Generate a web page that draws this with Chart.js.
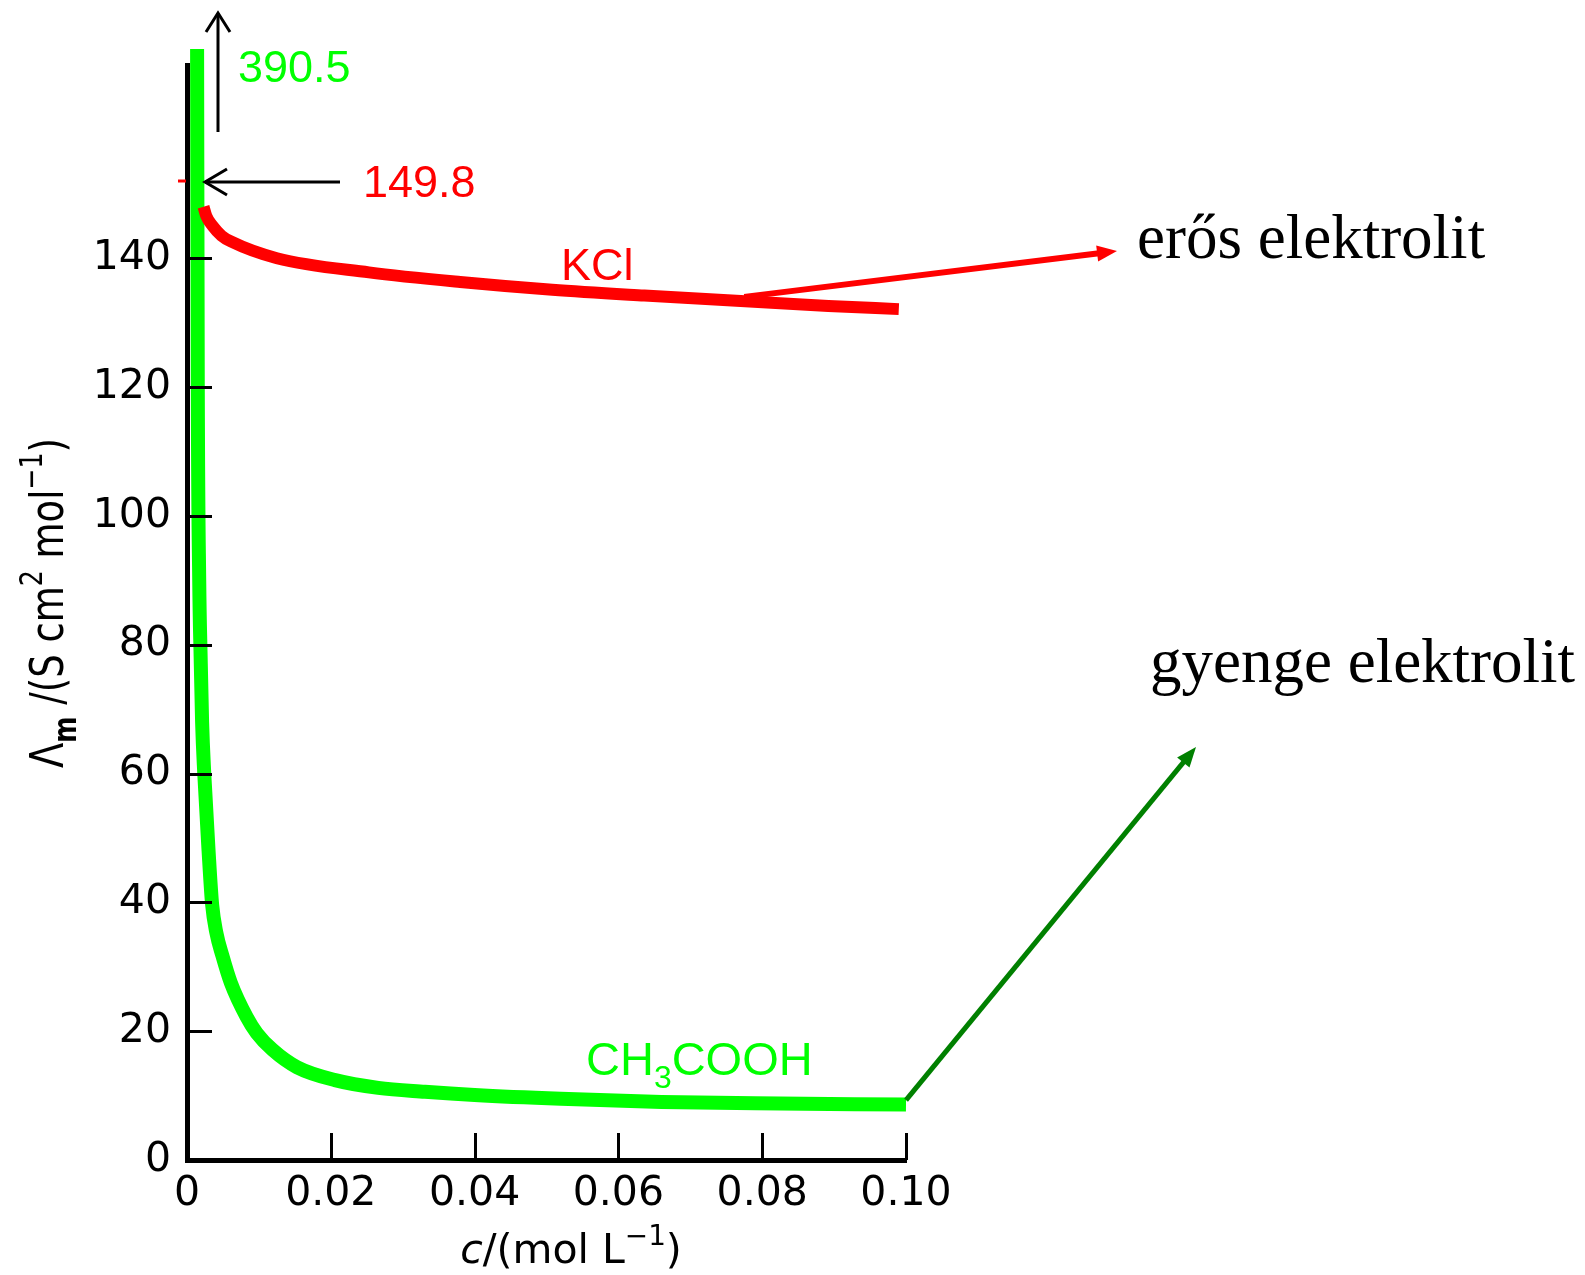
<!DOCTYPE html>
<html>
<head>
<meta charset="utf-8">
<script src="https://cdn.jsdelivr.net/npm/chart.js@4"></script>
<style>
  html, body { margin: 0; padding: 0; background: #fff; }
  #wrap { width: 1585px; height: 1275px; position: relative; }
</style>
</head>
<body>
<div id="wrap"><canvas id="myChart"></canvas></div>
<script>
// molar conductivity vs concentration
const concKCl   = [0.0023, 0.0027, 0.0035, 0.0048, 0.0061, 0.0125, 0.0253, 0.0380, 0.0508, 0.0636, 0.0764, 0.0892, 0.0990];
const lambdaKCl = [148.0, 146.5, 145.1, 143.5, 142.6, 140.0, 137.8, 136.3, 135.1, 134.2, 133.4, 132.6, 132.1];

const concAcetic   = [0.0014, 0.0015, 0.0017, 0.0019, 0.0021, 0.0024, 0.0030, 0.0035, 0.0041, 0.0049, 0.0061, 0.0083, 0.0097, 0.0119, 0.0153, 0.0206, 0.0266, 0.0331, 0.0400, 0.0520, 0.0660, 0.0790, 0.1000];
const lambdaAcetic = [175, 120, 90, 78, 68, 60, 48, 39.6, 35.2, 31.8, 27.5, 22.2, 19.7, 17.1, 14.4, 12.4, 11.2, 10.6, 10.1, 9.5, 9.0, 8.8, 8.6];

const xTickValues = [0, 0.02, 0.04, 0.06, 0.08, 0.10];
const xTickLabels = ['0', '0.02', '0.04', '0.06', '0.08', '0.10'];
const yTickValues = [0, 20, 40, 60, 80, 100, 120, 140];

const limitKCl = '149.8';
const limitAcetic = '390.5';

const toPoints = (xs, ys) => xs.map((x, i) => ({ x: x, y: ys[i] }));

function line(ctx, x1, y1, x2, y2) {
    ctx.beginPath();
    ctx.moveTo(x1, y1);
    ctx.lineTo(x2, y2);
    ctx.stroke();
}

// filled arrow head at the end of a line
function arrow(ctx, x1, y1, x2, y2, color, width, headLen, headHalf) {
    const a = Math.atan2(y2 - y1, x2 - x1);
    ctx.strokeStyle = color;
    ctx.fillStyle = color;
    ctx.lineWidth = width;
    line(ctx, x1, y1, x2 - Math.cos(a) * headLen * 0.8, y2 - Math.sin(a) * headLen * 0.8);
    ctx.beginPath();
    ctx.moveTo(x2, y2);
    ctx.lineTo(x2 - Math.cos(a) * headLen - Math.sin(a) * headHalf, y2 - Math.sin(a) * headLen + Math.cos(a) * headHalf);
    ctx.lineTo(x2 - Math.cos(a) * headLen + Math.sin(a) * headHalf, y2 - Math.sin(a) * headLen - Math.cos(a) * headHalf);
    ctx.closePath();
    ctx.fill();
}

// open (line) arrow head
function openArrow(ctx, x1, y1, x2, y2, headLen, headHalf) {
    const a = Math.atan2(y2 - y1, x2 - x1);
    line(ctx, x1, y1, x2, y2);
    ctx.beginPath();
    ctx.moveTo(x2 - Math.cos(a) * headLen - Math.sin(a) * headHalf, y2 - Math.sin(a) * headLen + Math.cos(a) * headHalf);
    ctx.lineTo(x2, y2);
    ctx.lineTo(x2 - Math.cos(a) * headLen + Math.sin(a) * headHalf, y2 - Math.sin(a) * headLen - Math.cos(a) * headHalf);
    ctx.stroke();
}

// text runs with sub / superscripts
function runFont(r, size, family) {
    const s = r.mode ? size * 0.68 : size;
    return (r.italic ? 'italic ' : '') + (r.bold ? 'bold ' : '') + s + 'px ' + family;
}
function runsWidth(ctx, runs, size, family) {
    let w = 0;
    runs.forEach(r => { ctx.font = runFont(r, size, family); w += ctx.measureText(r.t).width; });
    return w;
}
function drawRuns(ctx, runs, x, y, size, family) {
    let cx = x;
    ctx.textAlign = 'left';
    ctx.textBaseline = 'alphabetic';
    runs.forEach(r => {
        ctx.font = runFont(r, size, family);
        const dy = r.mode === 'sub' ? size * 0.28 : r.mode === 'sup' ? -size * 0.45 : 0;
        ctx.fillText(r.t, cx, y + dy);
        cx += ctx.measureText(r.t).width;
    });
}

const yTitle = [
    { t: 'Λ' }, { t: 'm', mode: 'sub', bold: true }, { t: ' /(S cm' }, { t: '2', mode: 'sup' },
    { t: ' mol' }, { t: '−1', mode: 'sup' }, { t: ')' }
];
const xTitle = [
    { t: 'c', italic: true }, { t: '/(mol L' }, { t: '−1', mode: 'sup' }, { t: ')' }
];
const aceticLabel = [{ t: 'CH' }, { t: '3', mode: 'sub' }, { t: 'COOH' }];

const decorations = {
    id: 'decorations',
    afterDatasetsDraw(chart) {
        const { ctx, chartArea: a, scales: { x, y } } = chart;
        ctx.save();

        // inward tick marks
        ctx.strokeStyle = '#000';
        ctx.lineWidth = 3;
        yTickValues.slice(1).forEach(v => {
            const py = Math.round(y.getPixelForValue(v)) + 0.5;
            line(ctx, a.left, py, a.left + 25, py);
        });
        xTickValues.slice(1).forEach(v => {
            const px = Math.round(x.getPixelForValue(v)) + 0.5;
            line(ctx, px, a.bottom, px, a.bottom - 27);
        });

        // axis titles
        ctx.fillStyle = '#000';
        const fam = '"DejaVu Sans", sans-serif';
        ctx.save();
        ctx.translate(63, 603);
        ctx.rotate(-Math.PI / 2);
        const wy = runsWidth(ctx, yTitle, 47, fam);
        ctx.scale(330 / wy, 1);
        drawRuns(ctx, yTitle, -wy / 2, 0, 47, fam);
        ctx.restore();

        const wx = runsWidth(ctx, xTitle, 41, fam);
        drawRuns(ctx, xTitle, 571 - wx / 2, 1263, 41, fam);

        // limiting values
        const sans = '"Liberation Sans", Arial, sans-serif';
        ctx.strokeStyle = '#000';
        ctx.lineWidth = 3;
        openArrow(ctx, 218, 132, 218, 13, 19, 12);
        openArrow(ctx, 340, 182, 205, 182, 22, 13);
        ctx.strokeStyle = '#ff0000';
        line(ctx, 178, 181, 186, 181);

        ctx.textAlign = 'left';
        ctx.textBaseline = 'alphabetic';
        ctx.font = '45px ' + sans;
        ctx.fillStyle = '#00ff00';
        ctx.fillText(limitAcetic, 238, 82);
        ctx.fillStyle = '#ff0000';
        ctx.fillText(limitKCl, 363, 197);

        // curve labels
        ctx.font = '45px ' + sans;
        ctx.fillStyle = '#ff0000';
        ctx.fillText('KCl', 561, 280);
        ctx.fillStyle = '#00ff00';
        drawRuns(ctx, aceticLabel, 586, 1075, 47, sans);

        // arrows to the labels, starting on the curves
        arrow(ctx, x.getPixelForValue(0.0775), y.getPixelForValue(134), 1117, 251, '#ff0000', 6, 20, 8);
        arrow(ctx, x.getPixelForValue(0.1), y.getPixelForValue(9.3), 1196, 747, '#008000', 5, 20, 8);

        ctx.fillStyle = '#000';
        ctx.font = '63px "Liberation Serif", "Times New Roman", serif';
        ctx.fillText('erős elektrolit', 1137, 258);
        ctx.fillText('gyenge elektrolit', 1150, 682);

        ctx.restore();
    }
};

const ctx = document.getElementById('myChart').getContext('2d');
Chart.defaults.font.family = '"DejaVu Sans", sans-serif';
Chart.defaults.color = '#000';

const myChart = new Chart(ctx, {
    type: 'line',
    data: {
        datasets: [
            {
                label: 'KCl',
                data: toPoints(concKCl, lambdaKCl),
                borderColor: '#ff0000',
                borderWidth: 12,
                pointRadius: 0,
                fill: false,
                cubicInterpolationMode: 'monotone',
                clip: { left: 12, top: 16, right: 8, bottom: 0 }
            },
            {
                label: 'CH3COOH',
                data: toPoints(concAcetic, lambdaAcetic),
                borderColor: '#00ff00',
                borderWidth: 14,
                pointRadius: 0,
                fill: false,
                cubicInterpolationMode: 'monotone',
                clip: { left: 12, top: 16, right: 8, bottom: 0 }
            }
        ]
    },
    options: {
        responsive: true,
        maintainAspectRatio: false,
        animation: false,
        layout: { padding: { left: 0, top: 65, right: 679, bottom: 0 } },
        plugins: { legend: { display: false }, tooltip: { enabled: false } },
        scales: {
            x: {
                type: 'linear',
                min: 0,
                max: 0.1,
                afterFit: s => { s.height = 115; },
                afterBuildTicks: s => { s.ticks = xTickValues.map(v => ({ value: v })); },
                grid: { drawOnChartArea: false, drawTicks: false },
                border: { display: true, color: '#000', width: 5 },
                ticks: {
                    padding: 10,
                    color: '#000',
                    font: { size: 41 },
                    maxRotation: 0,
                    autoSkip: false,
                    callback: (v, i) => xTickLabels[i]
                }
            },
            y: {
                type: 'linear',
                min: 0,
                max: 170,
                afterFit: s => { s.width = 187; },
                afterBuildTicks: s => { s.ticks = yTickValues.map(v => ({ value: v })); },
                grid: { drawOnChartArea: false, drawTicks: false },
                border: { display: true, color: '#000', width: 5 },
                ticks: {
                    padding: 16,
                    color: '#000',
                    font: { size: 41 },
                    autoSkip: false,
                    callback: v => String(v)
                }
            }
        }
    },
    plugins: [decorations]
});
</script>
</body>
</html>
